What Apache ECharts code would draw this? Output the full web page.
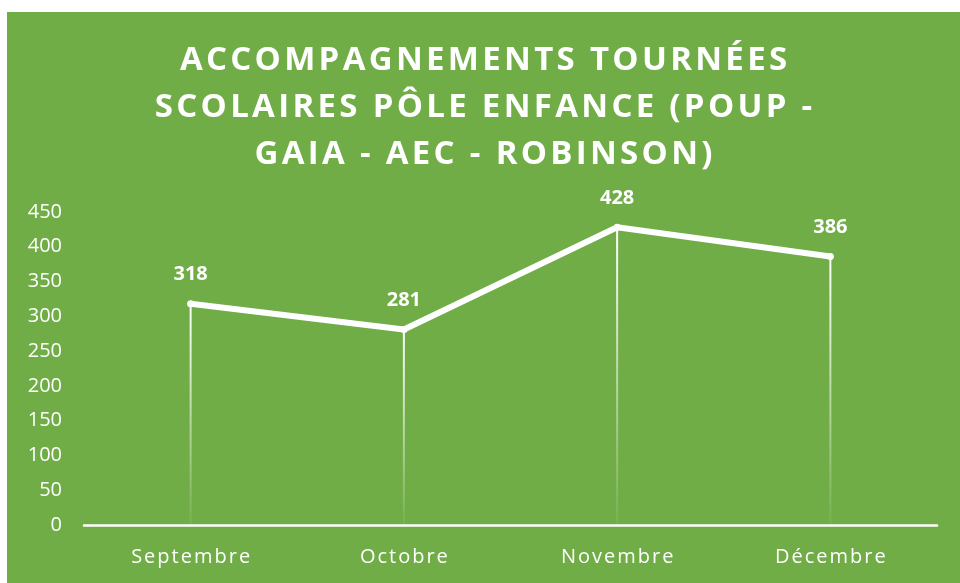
<!DOCTYPE html>
<html>
<head>
<meta charset="utf-8">
<script src="https://cdn.jsdelivr.net/npm/echarts@6/dist/echarts.min.js"></script>
<style>
  html, body { margin: 0; padding: 0; background: #fff; }
  #chart { position: absolute; left: 7px; top: 12px; width: 953px; height: 571px; }
</style>
</head>
<body>
<div id="chart"></div>
<script>
// Values.
const months = ['Septembre', 'Octobre', 'Novembre', 'Décembre'];
const accompagnements = [318, 281, 428, 386];
const titleLines = [
  'ACCOMPAGNEMENTS TOURNÉES',
  'SCOLAIRES PÔLE ENFANCE (POUP -',
  'GAIA - AEC - ROBINSON)',
];

const GREEN = '#70AD47';
const FONT = '"Open Sans", "Noto Sans", sans-serif';

// ECharts has no letter-spacing, so pad glyphs with hair spaces.
const spaced = (s) => s.split('').join('\u200A');

const chart = echarts.init(document.getElementById('chart'));

chart.setOption({
  backgroundColor: GREEN,
  animation: false,
  title: {
    text: titleLines.map(spaced).join('\n'),
    left: 'center',
    top: 20,
    textStyle: {
      color: '#fff',
      fontFamily: FONT,
      fontWeight: 'bold',
      fontSize: 33,
      lineHeight: 47,
    },
  },
  grid: { left: 77, right: 23, top: 200, bottom: 58 },
  xAxis: {
    type: 'category',
    data: months,
    axisLine: { lineStyle: { color: '#fff', width: 2.5 } },
    axisTick: { show: false },
    axisLabel: {
      color: '#fff',
      fontFamily: FONT,
      fontSize: 20,
      margin: 22,
      formatter: (v) => spaced(v),
    },
  },
  yAxis: {
    type: 'value',
    min: 0,
    max: 450,
    interval: 50,
    axisLine: { show: false },
    axisTick: { show: false },
    splitLine: { show: false },
    axisLabel: { color: '#fff', fontFamily: FONT, fontSize: 20, margin: 22 },
  },
  series: [
    {
      // drop lines from each point down to the axis, fading out
      type: 'bar',
      data: accompagnements,
      barWidth: 2,
      silent: true,
      itemStyle: {
        color: new echarts.graphic.LinearGradient(0, 0, 0, 1, [
          { offset: 0, color: 'rgba(255,255,255,1)' },
          { offset: 1, color: 'rgba(255,255,255,0.05)' },
        ]),
      },
      z: 1,
    },
    {
      type: 'line',
      data: accompagnements,
      symbol: 'circle',
      symbolSize: 7,
      lineStyle: { color: '#fff', width: 6, cap: 'round' },
      itemStyle: { color: '#fff' },
      label: {
        show: true,
        position: 'top',
        distance: 16,
        color: '#fff',
        fontFamily: FONT,
        fontWeight: 'bold',
        fontSize: 20,
      },
      z: 3,
    },
  ],
});
</script>
</body>
</html>
